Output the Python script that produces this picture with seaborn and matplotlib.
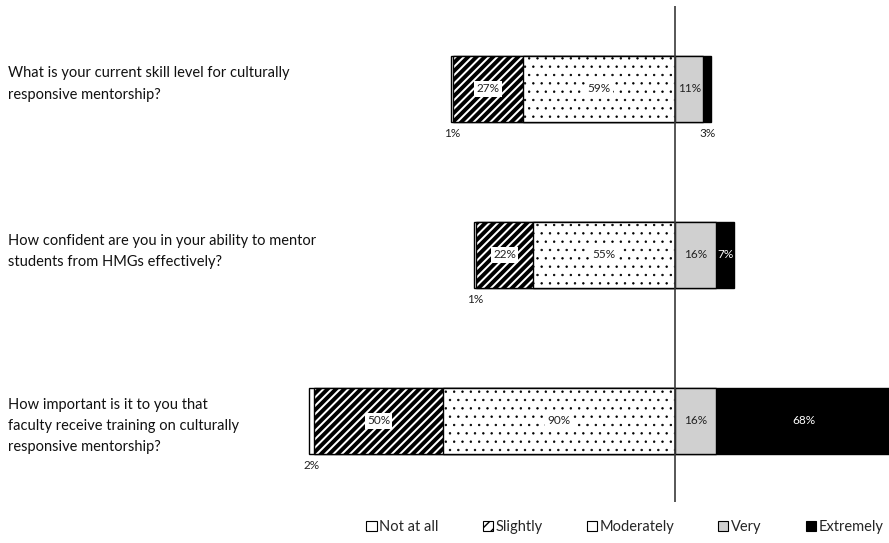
import numpy as np
import pandas as pd
import matplotlib
matplotlib.use("Agg")
import matplotlib.pyplot as plt
import matplotlib.transforms as mtransforms
from matplotlib.patches import Patch
import seaborn as sns

# Survey responses (counts shown with a % sign, as labelled on the chart)
questions = [
    "What is your current skill level for culturally\nresponsive mentorship?",
    "How confident are you in your ability to mentor\nstudents from HMGs effectively?",
    "How important is it to you that\nfaculty receive training on culturally\nresponsive mentorship?",
]
levels = ["Not at all", "Slightly", "Moderately", "Very", "Extremely"]
not_at_all = [1, 1, 2]
slightly = [27, 22, 50]
moderately = [59, 55, 90]
very = [11, 16, 16]
extremely = [3, 7, 68]

sns.set_theme(style="white")
plt.rcParams["font.family"] = ["Lato", "DejaVu Sans"]

fig = plt.figure(figsize=(8.89, 5.43), dpi=100)
ax = fig.add_axes([260 / 889, 41 / 543, 629 / 889, 496 / 543])

keys = ["q1", "q2", "q3"]
df = pd.DataFrame({
    "q": keys,
    "not_at_all": not_at_all,
    "slightly": slightly,
    "moderately": moderately,
    "very": very,
    "extremely": extremely,
})
# cumulative extents: negative side holds the lower three levels
df["left_na"] = -(df["moderately"] + df["slightly"] + df["not_at_all"])
df["left_sl"] = -(df["moderately"] + df["slightly"])
df["left_mo"] = -df["moderately"]
df["right_ex"] = df["very"] + df["extremely"]
df["right_ve"] = df["very"]

bar_w = 0.4
common = dict(y="q", order=keys, orient="h", errorbar=None, width=bar_w,
              edgecolor="black", linewidth=1.0, ax=ax)

styles = {
    "Not at all": dict(facecolor="white", hatch=None, hlw=1.0),
    "Slightly": dict(facecolor="white", hatch="////", hlw=2.8),
    "Moderately": dict(facecolor="white", hatch="..", hlw=0.5),
    "Very": dict(facecolor="#d0d0d0", hatch=None, hlw=1.0),
    "Extremely": dict(facecolor="black", hatch=None, hlw=1.0),
}

layers = [
    ("left_na", "Not at all"),
    ("left_sl", "Slightly"),
    ("left_mo", "Moderately"),
    ("right_ex", "Extremely"),
    ("right_ve", "Very"),
]
for col, lev in layers:
    st = styles[lev]
    plt.rcParams["hatch.linewidth"] = st["hlw"]
    kw = dict(common)
    kw["color"] = st["facecolor"]
    if st["hatch"]:
        kw["hatch"] = st["hatch"]
    sns.barplot(data=df, x=col, **kw)

ax.set_xlim(-160.9, 82.9)
ax.set_ylim(2.488, -0.5)
ax.axvline(0, color="#3a3a3a", linewidth=1.2, zorder=10)
ax.set_xticks([])
ax.set_yticks([])
ax.set_xlabel("")
ax.set_ylabel("")
for s in ax.spines.values():
    s.set_visible(False)

lab_fs = 8.5
box = dict(facecolor="white", edgecolor="none", pad=1.5)
for i in range(3):
    m, s_, n = moderately[i], slightly[i], not_at_all[i]
    v, e = very[i], extremely[i]
    # lower levels on the left of zero
    ax.text(-(m + s_ / 2), i, f"{s_}%", ha="center", va="center", fontsize=lab_fs,
            color="#222222", bbox=box, zorder=5)
    ax.text(-m / 2, i, f"{m}%", ha="center", va="center", fontsize=lab_fs,
            color="#222222", bbox=box, zorder=5)
    ax.annotate(f"{n}%", xy=(-(m + s_ + n / 2), i + bar_w / 2), xytext=(0, -8),
                textcoords="offset points", ha="center", va="center",
                fontsize=lab_fs, color="#222222")
    # upper levels on the right
    ax.text(v / 2, i, f"{v}%", ha="center", va="center", fontsize=lab_fs,
            color="#222222", zorder=5)
    if e >= 5:
        ax.text(v + e / 2, i, f"{e}%", ha="center", va="center", fontsize=lab_fs,
                color="white", zorder=5)
    else:
        ax.annotate(f"{e}%", xy=(v + e / 2, i + bar_w / 2), xytext=(0, -8),
                    textcoords="offset points", ha="center", va="center",
                    fontsize=lab_fs, color="#222222")

# question text on the left
trans = mtransforms.blended_transform_factory(fig.transFigure, ax.transData)
text_shift = [-0.03, -0.02, 0.03]
for i, q in enumerate(questions):
    ax.text(8 / 889, i + text_shift[i], q, transform=trans, ha="left", va="center",
            fontsize=10.5, color="#111111", linespacing=1.65, clip_on=False)

plt.rcParams["hatch.linewidth"] = 1.0
handles = [Patch(facecolor=styles[l]["facecolor"], edgecolor="black",
                 hatch=("///" if l == "Slightly" else ("." if l == "Moderately" else None)),
                 linewidth=0.8, label=l) for l in levels]
fig.legend(handles=handles, loc="center", bbox_to_anchor=(625 / 889, 1 - 527 / 543),
           ncol=5, frameon=False, fontsize=10.5, handlelength=0.7, handleheight=0.7,
           handletextpad=0.2, columnspacing=3.0)

fig.savefig("out.png", dpi=100)
